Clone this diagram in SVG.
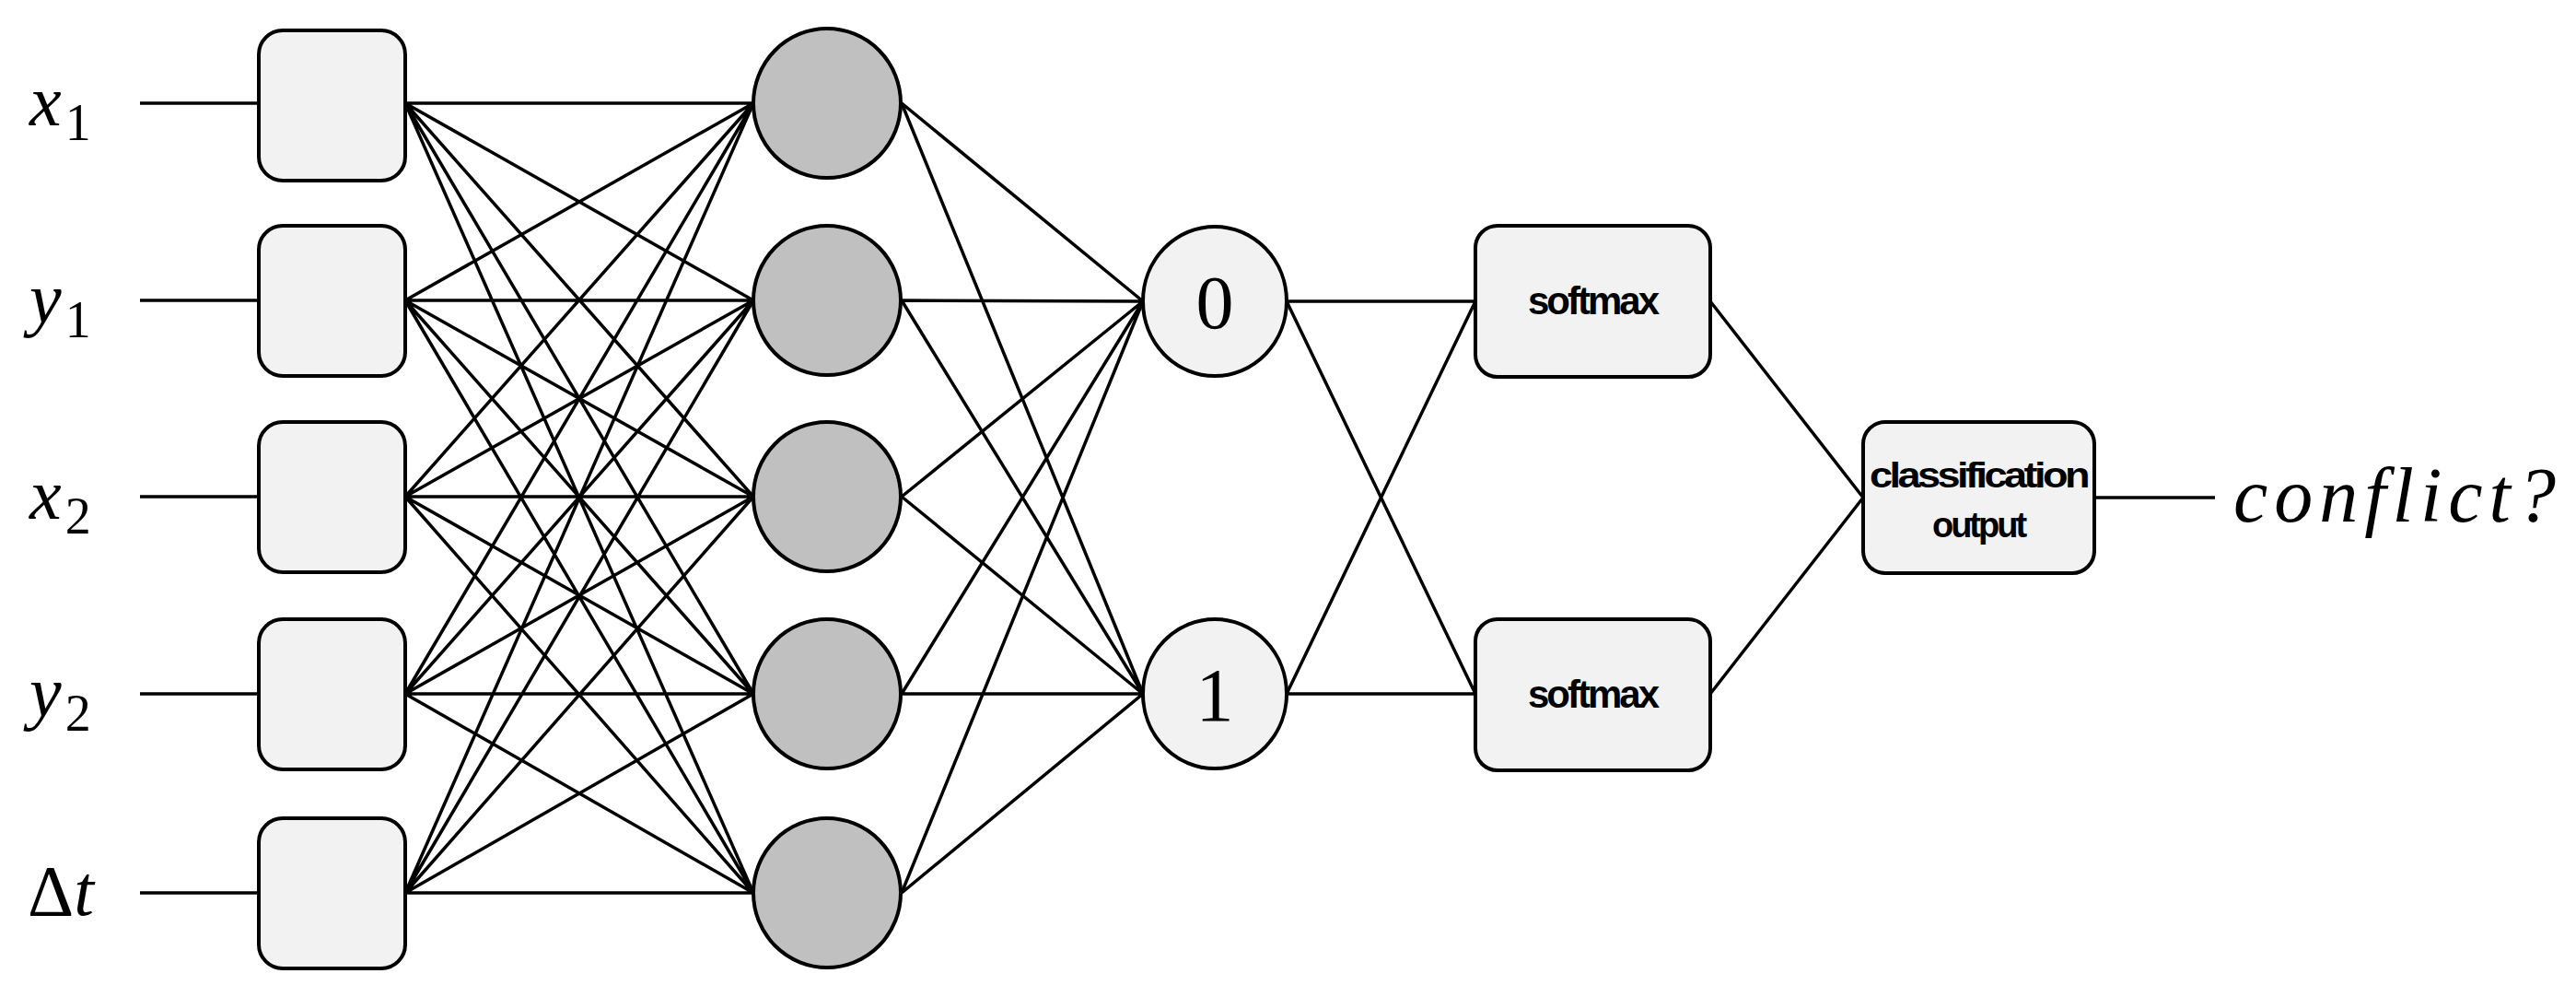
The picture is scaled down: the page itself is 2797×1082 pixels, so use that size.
<svg xmlns="http://www.w3.org/2000/svg" width="2797" height="1082" viewBox="0 0 2797 1082">
<style>
.l{stroke:#000;stroke-width:3.5;fill:none}
.box{fill:#f2f2f2;stroke:#000;stroke-width:4}
.hid{fill:#c0c0c0;stroke:#000;stroke-width:4}
.m{font-family:"Liberation Serif",serif;font-style:italic;font-size:78px}
.sub{font-style:normal;font-size:56px}
.n{font-family:"Liberation Serif",serif;font-size:82px;text-anchor:middle}
.s{font-family:"Liberation Sans",Arial,sans-serif;font-weight:bold;font-size:42px;text-anchor:middle;letter-spacing:-3px}
.c{font-size:38px}
</style>
<rect width="2797" height="1082" fill="#fff"/>
<g id="connectors">
<path class="l" d="M152 112H281M152 326H281M152 539H281M152 753H281M152 969H281"/>
<path class="l" d="M440 112L818 112M440 112L818 326M440 112L818 539M440 112L818 753M440 112L818 969
M440 326L818 112M440 326L818 326M440 326L818 539M440 326L818 753M440 326L818 969
M440 539L818 112M440 539L818 326M440 539L818 539M440 539L818 753M440 539L818 969
M440 753L818 112M440 753L818 326M440 753L818 539M440 753L818 753M440 753L818 969
M440 969L818 112M440 969L818 326M440 969L818 539M440 969L818 753M440 969L818 969"/>
<path class="l" d="M979 112L1241 327M979 326L1241 327M979 539L1241 327M979 753L1241 327M979 969L1241 327
M979 112L1241 753M979 326L1241 753M979 539L1241 753M979 753L1241 753M979 969L1241 753"/>
<path class="l" d="M1397 327L1602 327M1397 327L1602 753M1397 753L1602 327M1397 753L1602 753"/>
<path class="l" d="M1857 327L2023 540M1857 753L2023 540M2274 540L2405 540"/>
</g>
<g id="labels">
<text class="m" x="32" y="136">x<tspan class="sub" dx="4" dy="16">1</tspan></text>
<text class="m" x="32" y="350">y<tspan class="sub" dx="4" dy="16">1</tspan></text>
<text class="m" x="32" y="563">x<tspan class="sub" dx="4" dy="16">2</tspan></text>
<text class="m" x="32" y="777">y<tspan class="sub" dx="4" dy="16">2</tspan></text>
<text class="m" x="30" y="993"><tspan font-style="normal">Δ</tspan>t</text>
</g>
<g id="inputs">
<rect class="box" x="281" y="33" width="159" height="163" rx="26"/>
<rect class="box" x="281" y="245" width="159" height="163" rx="26"/>
<rect class="box" x="281" y="458" width="159" height="163" rx="26"/>
<rect class="box" x="281" y="672" width="159" height="163" rx="26"/>
<rect class="box" x="281" y="888" width="159" height="163" rx="26"/>
</g>
<g id="hidden">
<ellipse class="hid" cx="898" cy="112" rx="80" ry="81"/>
<ellipse class="hid" cx="898" cy="326" rx="80" ry="81"/>
<ellipse class="hid" cx="898" cy="539" rx="80" ry="81"/>
<ellipse class="hid" cx="898" cy="753" rx="80" ry="81"/>
<ellipse class="hid" cx="898" cy="969" rx="80" ry="81"/>
</g>
<g id="out0"><ellipse class="box" cx="1319" cy="327" rx="78" ry="81"/><text class="n" x="1319" y="356">0</text></g>
<g id="out1"><ellipse class="box" cx="1319" cy="753" rx="78" ry="81"/><text class="n" x="1319" y="782">1</text></g>
<g id="softmax0"><rect class="box" x="1602" y="245" width="255" height="164" rx="24"/><text class="s" x="1729" y="341">softmax</text></g>
<g id="softmax1"><rect class="box" x="1602" y="672" width="255" height="164" rx="24"/><text class="s" x="1729" y="768">softmax</text></g>
<g id="classification"><rect class="box" x="2023" y="458" width="251" height="164" rx="24"/>
<text class="s c" x="2148" y="529" textLength="236" lengthAdjust="spacingAndGlyphs">classification</text>
<text class="s c" x="2148" y="583">output</text></g>
<g id="result"><text class="m" x="2425" y="566" style="font-size:84px" letter-spacing="7">conflict?</text></g>
</svg>
